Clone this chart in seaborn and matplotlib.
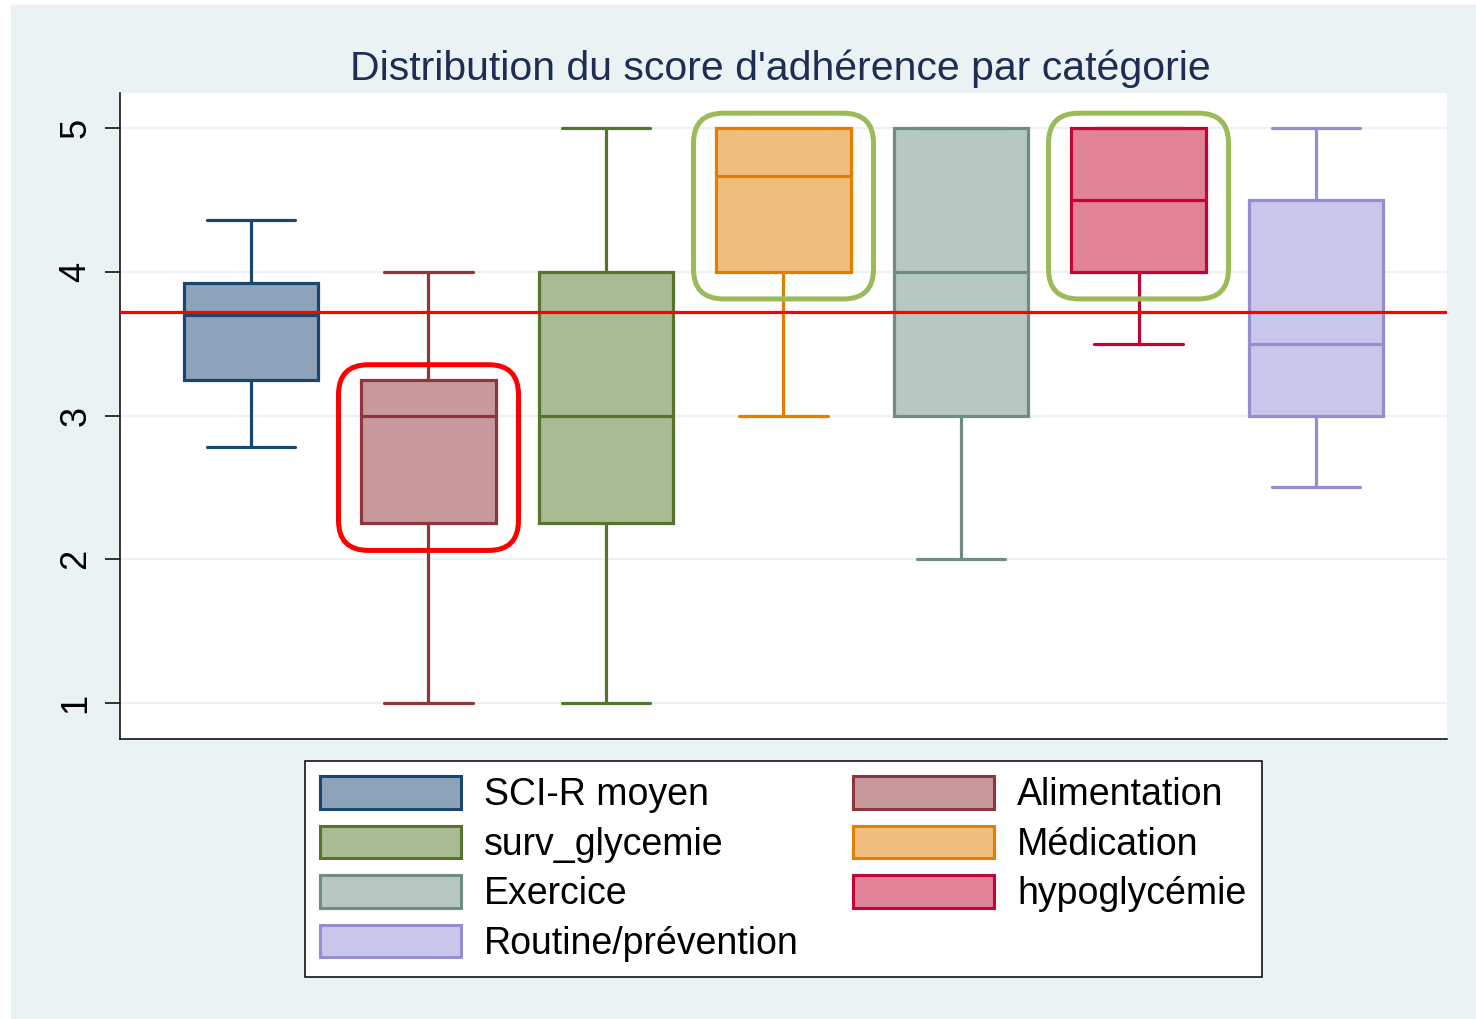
import matplotlib
matplotlib.use("Agg")
import matplotlib.pyplot as plt
from matplotlib.patches import Patch, FancyBboxPatch, Rectangle
from matplotlib.transforms import IdentityTransform
import pandas as pd
import seaborn as sns

# values (5-number summaries per category)
categories = ["SCI-R moyen", "Alimentation", "surv_glycemie", "Médication",
              "Exercice", "hypoglycémie", "Routine/prévention"]
whisker_low = [2.78, 1.0, 1.0, 3.0, 2.0, 3.5, 2.5]
q1 = [3.25, 2.25, 2.25, 4.0, 3.0, 4.0, 3.0]
median = [3.70, 3.0, 3.0, 4.67, 4.0, 4.5, 3.5]
q3 = [3.92, 3.25, 4.0, 5.0, 5.0, 5.0, 4.5]
whisker_high = [4.36, 4.0, 5.0, 5.0, 5.0, 5.0, 5.0]
mean_score = 3.72

edge_colors = ["#1A476F", "#90353B", "#55752F", "#E37E00",
               "#6E8E84", "#C10534", "#938DD2"]
fill_colors = ["#8DA3B9", "#C8999C", "#AABA94", "#F0BE7F",
               "#B7C7C1", "#E08298", "#C9C6E9"]
highlights = {"Alimentation": "#FF0000", "Médication": "#9BBB59",
              "hypoglycémie": "#9BBB59"}

rows = []
for i, cat in enumerate(categories):
    for v in (whisker_low[i], q1[i], median[i], q3[i], whisker_high[i]):
        rows.append({"categorie": cat, "score": v})
df = pd.DataFrame(rows)

sns.set_style("white")
plt.rcParams["font.family"] = ["Liberation Sans", "DejaVu Sans"]
plt.rcParams["text.color"] = "black"
plt.rcParams["ytick.color"] = "black"
plt.rcParams["ytick.labelcolor"] = "black"

W, H = 1476, 1019
fig = plt.figure(figsize=(W / 100, H / 100), dpi=100)
fig.patch.set_facecolor("white")
fig.patches.append(Rectangle((11 / W, 0), 1 - 11 / W, 1 - 5 / H,
                             transform=fig.transFigure, color="#EAF2F3",
                             zorder=-10))

ax = fig.add_axes([120 / W, 1 - 739 / H, (1447 - 120) / W, (739 - 93) / H])
ax.set_facecolor("white")

box_width = 0.755
for i, cat in enumerate(categories):
    sub = df[df["categorie"] == cat]
    sns.boxplot(data=sub, x="categorie", y="score", order=categories, ax=ax,
                color=fill_colors[i], linecolor=edge_colors[i], linewidth=2.3,
                width=box_width, saturation=1, fliersize=0, whis=1.5,
                capwidths=0.496)

ax.axhline(mean_score, color="#FF0000", lw=2.3, zorder=6)

ax.set_xlim(-0.738, 6.738)
ax.set_ylim(0.75, 5.245)
ax.set_xticks([])
ax.set_xlabel("")
ax.set_ylabel("")
ax.set_yticks([1, 2, 3, 4, 5])
ax.tick_params(axis="y", left=True, length=11, width=1.1, labelsize=26,
               pad=8, labelrotation=90, color="black", labelcolor="black")
for lbl in ax.get_yticklabels():
    lbl.set_va("center")
ax.set_axisbelow(True)
ax.yaxis.grid(True, color="#EAF2F3", lw=1.6)
ax.xaxis.grid(False)
for side in ["top", "right"]:
    ax.spines[side].set_visible(False)
for side in ["left", "bottom"]:
    ax.spines[side].set_color("black")
    ax.spines[side].set_linewidth(1.1)

# rounded highlight frames around selected boxes (pixel space)
for i, cat in enumerate(categories):
    if cat not in highlights:
        continue
    x0, y0 = ax.transData.transform((i - box_width / 2, q1[i]))
    x1, y1 = ax.transData.transform((i + box_width / 2, q3[i]))
    pad_x, pad_top, pad_bot = 23, 15, 27
    frame = FancyBboxPatch((x0 - pad_x, y0 - pad_bot),
                           (x1 - x0) + 2 * pad_x, (y1 - y0) + pad_top + pad_bot,
                           boxstyle="round,pad=0,rounding_size=30",
                           transform=IdentityTransform(), fill=False,
                           ec=highlights[cat], lw=3.6, zorder=10)
    fig.add_artist(frame)

fig.text(780 / W, 1 - 69 / H, "Distribution du score d'adhérence par catégorie",
         ha="center", va="center", fontsize=29.5, color="#1F2D55")

handles = [Patch(facecolor=fill_colors[i], edgecolor=edge_colors[i],
                 linewidth=2.2, label=categories[i]) for i in range(len(categories))]
order = [0, 2, 4, 6, 1, 3, 5]
leg = fig.legend([handles[k] for k in order], [categories[k] for k in order],
                 ncol=2, loc="center", bbox_to_anchor=(783.5 / W, 1 - 869 / H),
                 bbox_transform=fig.transFigure, fontsize=27, frameon=True,
                 fancybox=False, edgecolor="black", handlelength=3.75,
                 handleheight=0.95, handletextpad=0.62, columnspacing=1.45,
                 labelspacing=0.33, borderpad=0.42)
leg.get_frame().set_linewidth(1.1)
leg.get_frame().set_facecolor("white")
leg.get_frame().set_alpha(1)
for t in leg.get_texts():
    t.set_color("black")

fig.savefig("out.png", dpi=100)
